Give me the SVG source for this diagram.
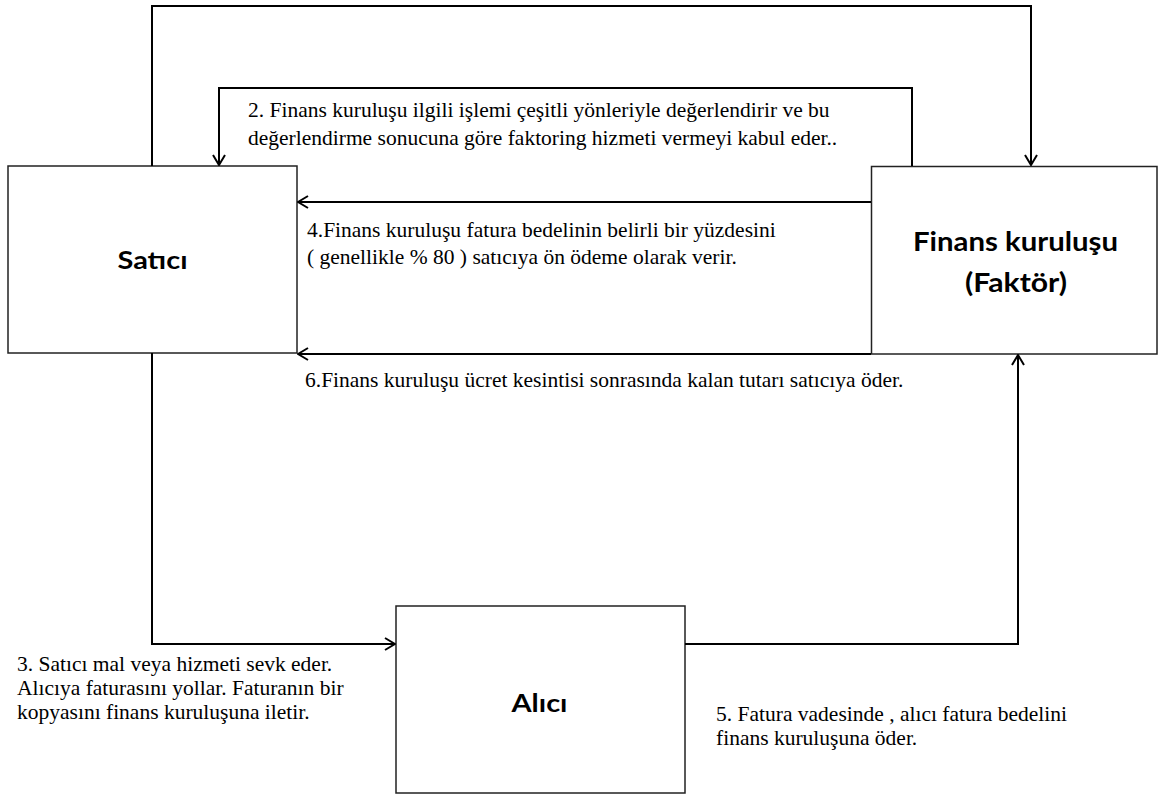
<svg xmlns="http://www.w3.org/2000/svg" width="1158" height="798" viewBox="0 0 1158 798">
<style>
.box{fill:#fff;stroke:#222;stroke-width:1.5}
.con{fill:none;stroke:#000;stroke-width:2}
.lbl{font-family:"Lato","Open Sans","Liberation Sans",sans-serif;font-weight:bold;fill:#000;text-anchor:middle}
.t{font-family:"Liberation Serif","Times New Roman",serif;font-size:21.5px;fill:#000}
</style>
<defs>
<marker id="arr" markerWidth="12" markerHeight="14" refX="11" refY="7" orient="auto" markerUnits="userSpaceOnUse">
<path d="M1,1 L11,7 L1,13" fill="none" stroke="#000" stroke-width="2"/>
</marker>
</defs>
<rect width="1158" height="798" fill="#fff"/>
<g id="satici"><rect class="box" x="8" y="166" width="289" height="187"/><text class="lbl" x="152.5" y="269" font-size="25" textLength="70" lengthAdjust="spacingAndGlyphs">Satıcı</text></g>
<g id="finans"><rect class="box" x="871.5" y="166.5" width="285.5" height="187.5"/><text class="lbl" x="1015.5" y="251" font-size="27" textLength="205" lengthAdjust="spacingAndGlyphs">Finans kuruluşu</text><text class="lbl" x="1016" y="292" font-size="27" textLength="102" lengthAdjust="spacingAndGlyphs">(Faktör)</text></g>
<g id="alici"><rect class="box" x="396" y="606" width="289" height="187"/><text class="lbl" x="539.5" y="712" font-size="25" textLength="56" lengthAdjust="spacingAndGlyphs">Alıcı</text></g>
<g id="connectors">
<path class="con" d="M152,166 V6 H1031 V165" marker-end="url(#arr)"/>
<path class="con" d="M912,166 V88 H219 V165" marker-end="url(#arr)"/>
<path class="con" d="M871,202 H298" marker-end="url(#arr)"/>
<path class="con" d="M871,354 H298" marker-end="url(#arr)"/>
<path class="con" d="M152,353 V644 H395" marker-end="url(#arr)"/>
<path class="con" d="M685,644 H1018 V355" marker-end="url(#arr)"/>
</g>
<g id="labels">
<text class="t" x="248" y="117">2. Finans kuruluşu ilgili işlemi çeşitli yönleriyle değerlendirir ve bu</text>
<text class="t" x="248" y="145">değerlendirme sonucuna göre faktoring hizmeti vermeyi kabul eder..</text>
<text class="t" x="307" y="237">4.Finans kuruluşu fatura bedelinin belirli bir yüzdesini</text>
<text class="t" x="307" y="264">( genellikle % 80 ) satıcıya ön ödeme olarak verir.</text>
<text class="t" x="305" y="387">6.Finans kuruluşu ücret kesintisi sonrasında kalan tutarı satıcıya öder.</text>
<text class="t" x="17" y="671">3. Satıcı mal veya hizmeti sevk eder.</text>
<text class="t" x="17" y="695">Alıcıya faturasını yollar. Faturanın bir</text>
<text class="t" x="17" y="719">kopyasını finans kuruluşuna iletir.</text>
<text class="t" x="716" y="721">5. Fatura vadesinde , alıcı fatura bedelini</text>
<text class="t" x="716" y="745">finans kuruluşuna öder.</text>
</g>
</svg>
